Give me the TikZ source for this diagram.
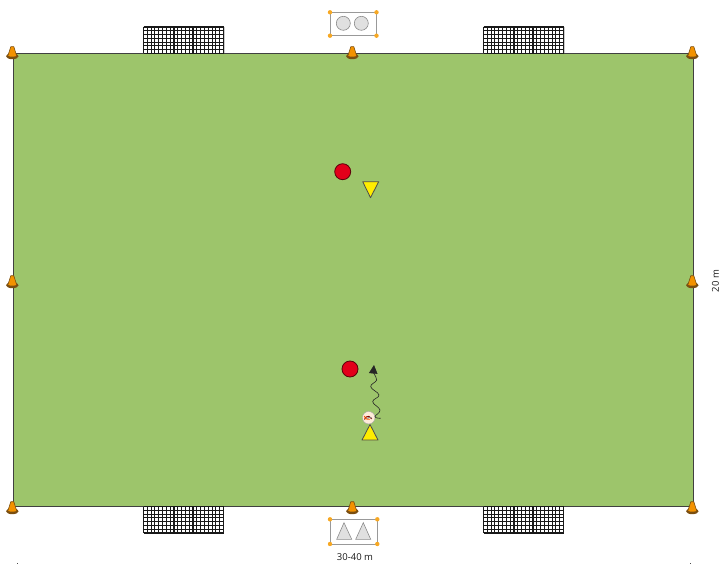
\documentclass[tikz,border=0pt]{standalone}
\usepackage{fontspec}
\setmainfont{Open Sans}
\usepackage{xcolor}
\usetikzlibrary{arrows.meta, positioning, calc}
\definecolor{pitch}{HTML}{9DC56B}
\definecolor{conebody}{HTML}{F39200}
\definecolor{conebrim}{HTML}{7A4E10}
\definecolor{teamred}{HTML}{E2001A}
\definecolor{teamyellow}{HTML}{FFED00}
\definecolor{lightshape}{HTML}{E0E0E0}
\definecolor{handle}{HTML}{F7A823}

\begin{document}
\begin{tikzpicture}[
  x=1pt, y=-1pt,
  player/.style={circle, draw=black!60!teamred, fill=teamred, line width=0.8pt, minimum size=16pt, inner sep=0pt},
  dim/.style={font=\fontsize{9.5}{10}\selectfont, text=black!90},
  tri/.style={draw=black!70, fill=teamyellow, line width=0.8pt, line join=round},
  ghost/.style={draw=black!45, fill=lightshape, line width=0.6pt},
  frame/.style={draw=black!40, line width=0.7pt},
  corner/.style={circle, fill=handle, minimum size=4.4pt, inner sep=0pt},
  >=Stealth,
  cone/.pic={
    \fill[conebrim] (0,4.2) ellipse (6.3 and 3);
    \fill[conebody] (-1.5,-5.3) -- (1.5,-5.3) -- (4.4,3.8) .. controls (2,5) and (-2,5) .. (-4.4,3.8) -- cycle;
    \draw[conebrim, line width=0.6pt] (-1.5,-5.3) -- (1.5,-5.3) -- (4.4,3.8) (-1.5,-5.3) -- (-4.4,3.8);
  },
  netgoal/.pic={
    \foreach \i in {0,...,21} \draw[black!90, line width=1.1pt] (\i*3.81,0) -- (\i*3.81,26.5);
    \foreach \j in {0,...,7} \draw[black!90, line width=1.1pt] (0,\j*3.79) -- (80,\j*3.79);
  }
]
  \useasboundingbox (0,0) rectangle (720,564);

  % Pitch
  \draw[fill=pitch, draw=black!75, line width=0.8pt] (13,53) rectangle (693,506);

  % Goals on both long sides
  \foreach \gx in {143.5,483.5} {
    \draw[black!20, line width=1pt] (\gx+80.5,27) -- (\gx+80.5,53);
    \pic at (\gx,27) {netgoal};
    \draw[black!35, line width=1pt] (\gx,533.5) -- (\gx+80,533.5);
    \pic at (\gx,506.5) {netgoal};
  }

  % Cones
  \foreach \cx/\cy in {12.3/52, 352.3/52, 692.3/52, 12.3/281, 692.3/281, 12.3/507, 352.3/507, 692.3/507}
    \pic at (\cx,\cy) {cone};

  % Top group of players
  \draw[frame] (330,12.3) rectangle (376.5,35.7);
  \foreach \hx/\hy [count=\n] in {330/12.3, 376.5/12.3, 330/35.7, 376.5/35.7}
    \node[corner] (topc\n) at (\hx,\hy) {};
  \draw[ghost] (343.3,23.3) circle (7);
  \draw[ghost] (361.3,23.3) circle (7);

  % Bottom group of players
  \draw[frame] (330,519.3) rectangle (377.3,544);
  \foreach \hx/\hy [count=\n] in {330/519.3, 377.3/519.3, 330/544, 377.3/544}
    \node[corner] (botc\n) at (\hx,\hy) {};
  \draw[ghost] (344,522.7) -- (351.7,539.3) -- (336.7,539.3) -- cycle;
  \draw[ghost] (363.3,522.7) -- (370.7,539.3) -- (355.7,539.3) -- cycle;

  % Players on the pitch
  \node[player] (redtop) at (342.7,171.7) {};
  \node[player] (redbot) at (350,369) {};
  \draw[tri] (362.7,181.7) -- (378.7,181.7) -- (370.5,197.7) -- cycle;
  \draw[tri] (370,424.5) -- (378,440) -- (362,440) -- cycle;

  % Ball and dribble
  \node[circle, draw=black!35, fill=white!85!orange, minimum size=12.5pt, inner sep=0pt] (ball) at (368.7,417.7) {};
  \draw[red!50!black, line width=1pt] (364.5,419.5) arc (190:340:3.8);
  \draw[orange!70!red, line width=0.9pt] (364.3,416) arc (170:70:4.2);
  \draw[black!50, line width=0.7pt] (367.5,419) arc (200:320:2.5);
  \coordinate (dribblestart) at (380.7,418.3);
  \coordinate (dribbleend) at (374,365);
  \draw[black!85, line width=0.6pt, -{Triangle[length=8.5pt, width=8.5pt]}] plot[smooth, tension=0.7] coordinates {
    (dribblestart) (375,416.7) (380,410) (372.7,401.7) (379,395) (370.7,386.7) (376.7,380) (374,373.5) (dribbleend)};

  % Dimensions
  \node[dim] (width) at (355,557.5) {30-40 m};
  \node[dim, rotate=90] (height) at (715.5,281) {20 m};

  % Marks at the lower edge
  \fill[black!70] (16.5,563) rectangle (17.7,564);
  \fill[black!70] (689.5,563) rectangle (690.7,564);
\end{tikzpicture}
\end{document}
